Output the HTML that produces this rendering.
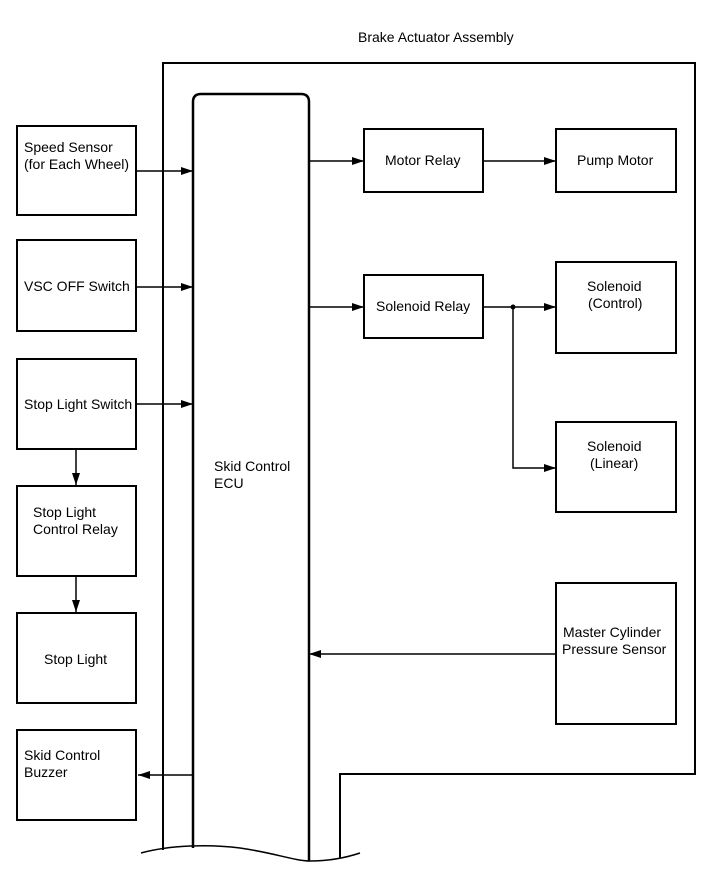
<!DOCTYPE html>
<html><head><style>body{margin:0;background:#fff}svg{display:block}text{font-family:"Liberation Sans",Arial,sans-serif;font-size:14px;fill:#000}</style></head><body>
<svg width="713" height="882" viewBox="0 0 713 882" xmlns="http://www.w3.org/2000/svg">
<defs><marker id="a" markerWidth="12" markerHeight="8" refX="12" refY="4" orient="auto" markerUnits="userSpaceOnUse"><path d="M0,0 L12,4 L0,8 z" fill="#000"/></marker></defs>
<g fill="none" stroke="#000" stroke-width="2">
<path d="M163,850 V63 H695 V774 H340 V858"/>
<path d="M193,848 V102 Q193,94 201,94 H301 Q309,94 309,102 V861" stroke-width="2.5"/>
<path d="M141,853 C170,845 210,844 240,848 C275,853 295,861 310,861 C330,861 345,858 360,853" stroke-width="1.5"/>
<rect x="17" y="126" width="119" height="89"/>
<rect x="17" y="240" width="119" height="91"/>
<rect x="17" y="359" width="119" height="90"/>
<rect x="17" y="486" width="119" height="90"/>
<rect x="17" y="613" width="119" height="90"/>
<rect x="17" y="730" width="119" height="90"/>
<rect x="364" y="129" width="119" height="63"/>
<rect x="556" y="129" width="120" height="63"/>
<rect x="364" y="275" width="119" height="63"/>
<rect x="556" y="262" width="120" height="91"/>
<rect x="556" y="422" width="120" height="90"/>
<rect x="556" y="583" width="120" height="141"/>
</g>
<g stroke="#000" stroke-width="1.5" fill="none" marker-end="url(#a)">
<path d="M136,171 H193"/><path d="M136,287 H193"/><path d="M136,404 H193"/>
<path d="M193,775 H138"/>
<path d="M76,449 V485"/><path d="M76,576 V612"/>
<path d="M309,161 H364"/><path d="M483,161 H556"/>
<path d="M309,307 H364"/><path d="M483,307 H556"/>
<path d="M513,307 V468 H556"/>
<path d="M556,654 H309"/>
</g>
<circle cx="513" cy="307" r="2.5" fill="#000"/>
<text x="358" y="42">Brake Actuator Assembly</text>
<text x="24" y="152">Speed Sensor</text><text x="24" y="169">(for Each Wheel)</text>
<text x="24" y="291">VSC OFF Switch</text>
<text x="24" y="409">Stop Light Switch</text>
<text x="33" y="517">Stop Light</text><text x="33" y="534">Control Relay</text>
<text x="44" y="664">Stop Light</text>
<text x="24" y="760">Skid Control</text><text x="24" y="777">Buzzer</text>
<text x="214" y="471">Skid Control</text><text x="214" y="488">ECU</text>
<text x="385" y="165">Motor Relay</text>
<text x="577" y="165">Pump Motor</text>
<text x="376" y="311">Solenoid Relay</text>
<text x="587" y="291">Solenoid</text><text x="588" y="308">(Control)</text>
<text x="587" y="451">Solenoid</text><text x="590" y="468">(Linear)</text>
<text x="563" y="637">Master Cylinder</text><text x="562" y="654">Pressure Sensor</text>
</svg>
</body></html>
